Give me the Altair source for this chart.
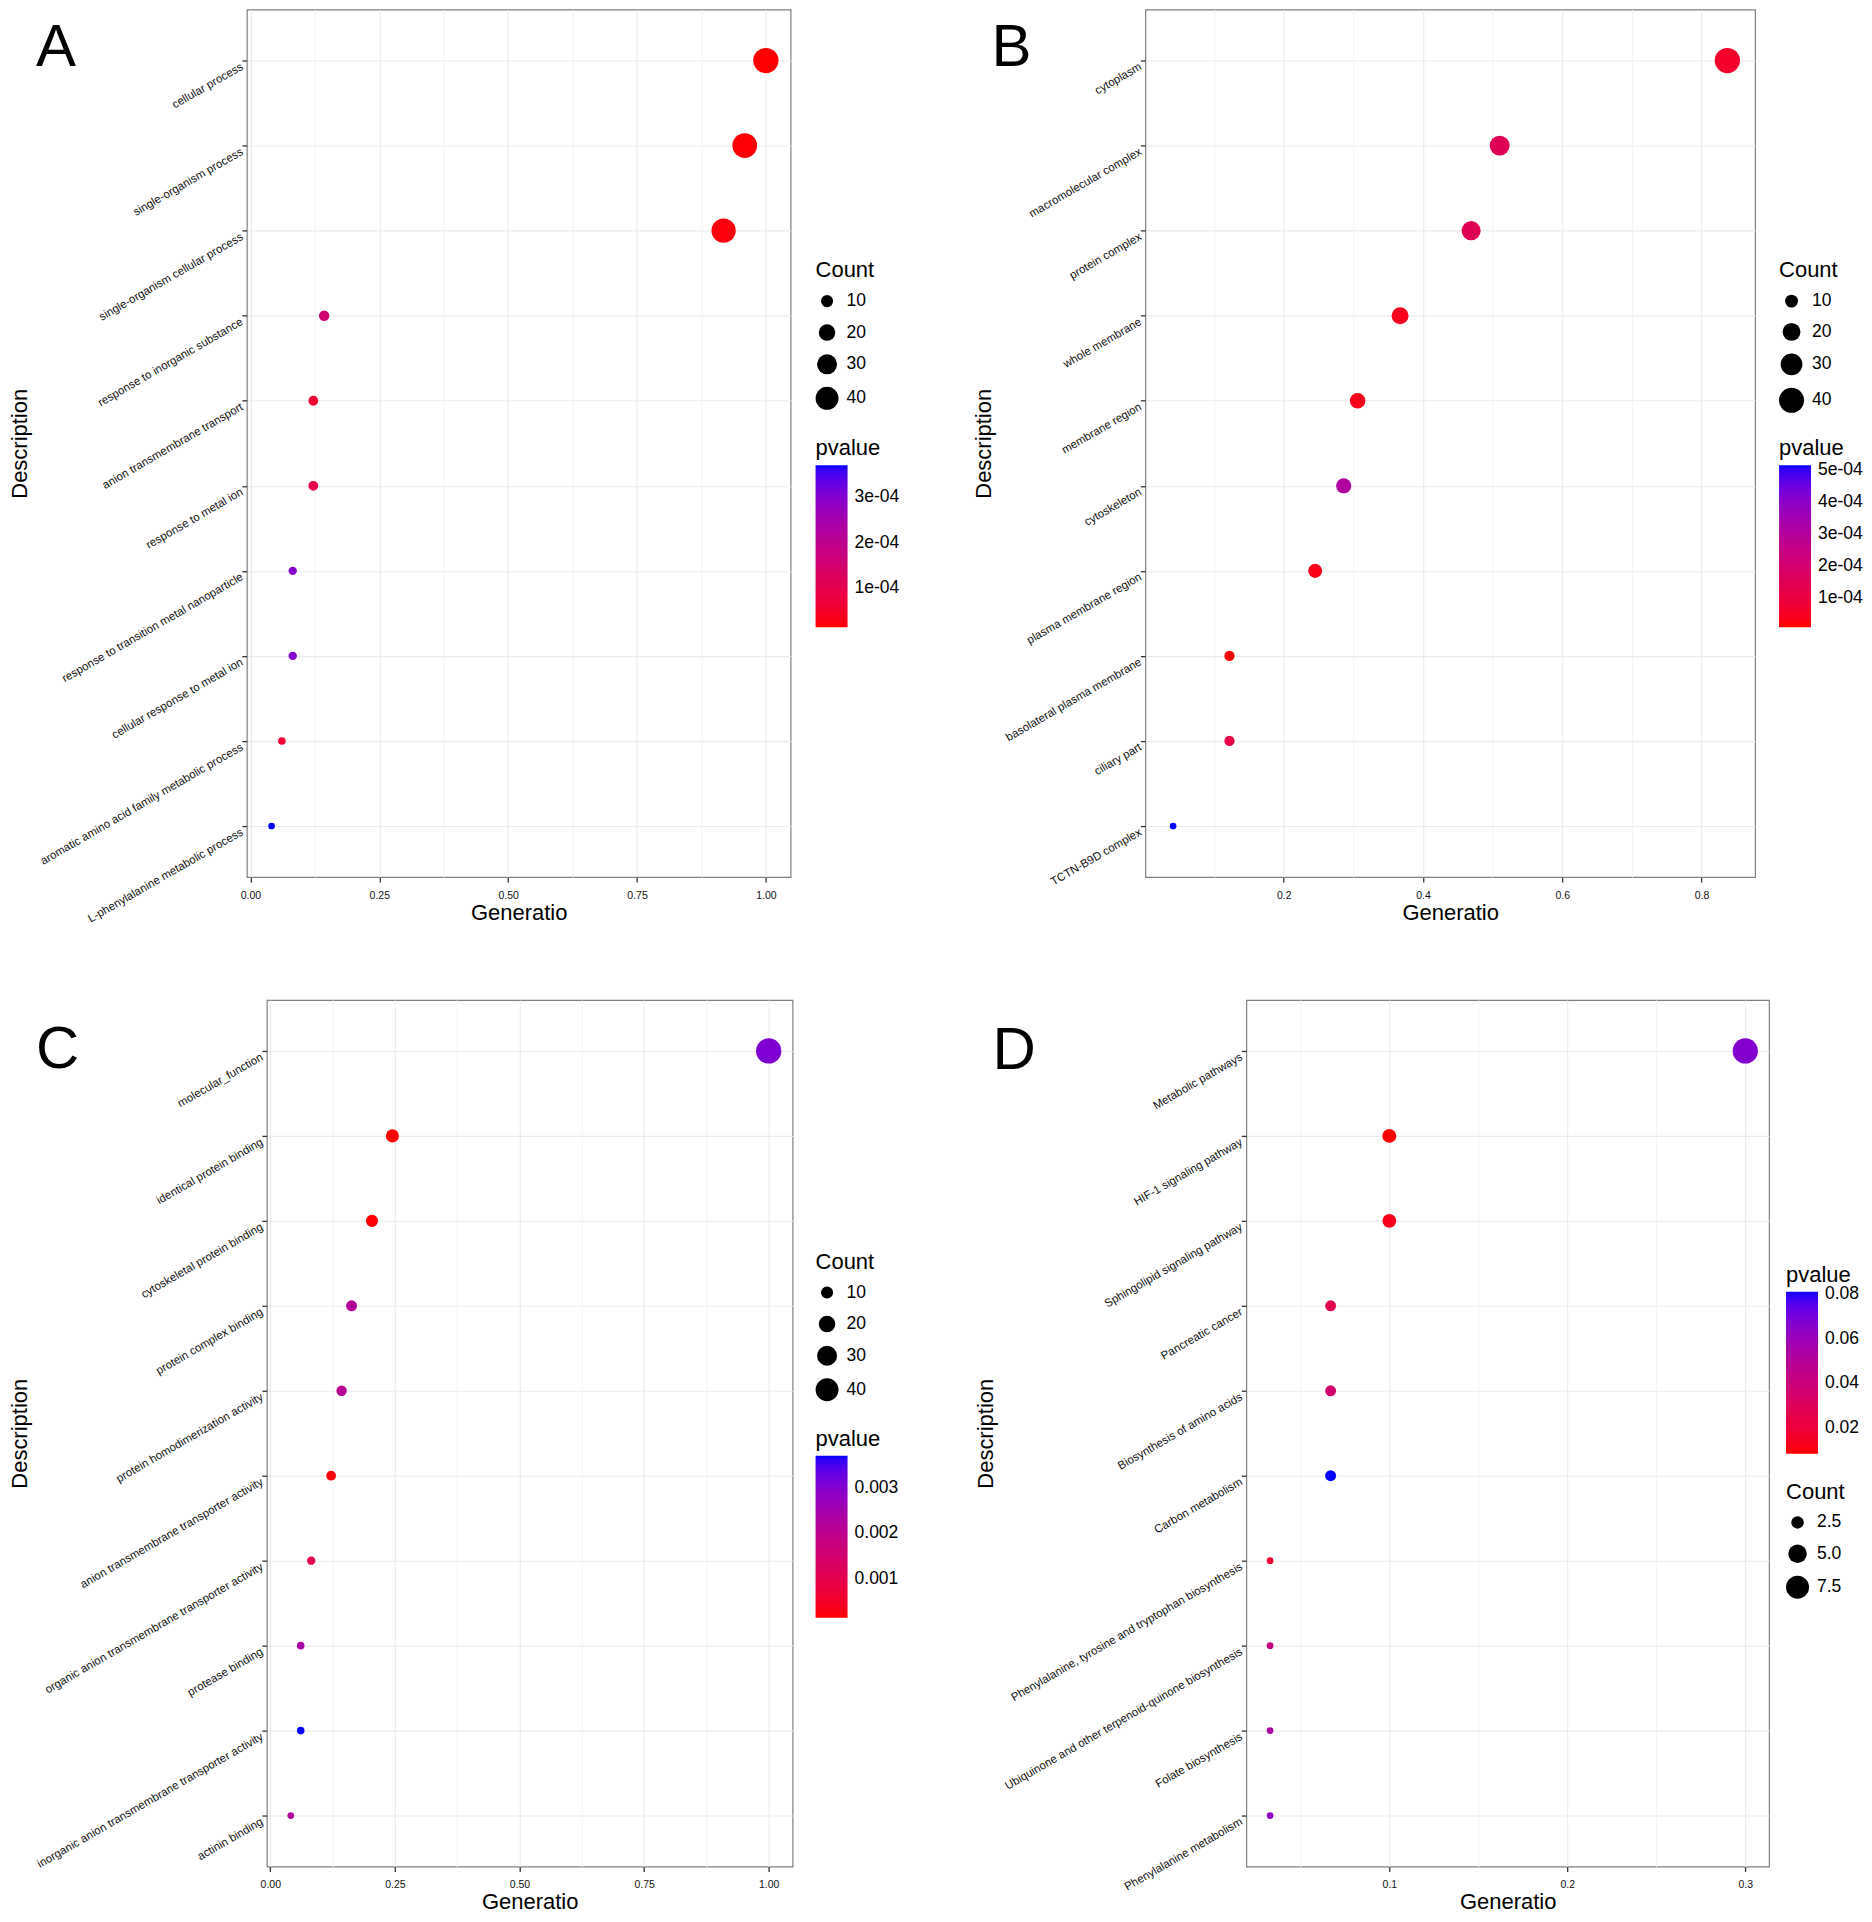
import json
import altair as alt
import pandas as pd

FONT = "Liberation Sans"
GRID_MAJOR = "#EBEBEB"
GRID_MINOR = "#F4F4F4"

# ---------------- Panel A : GO biological process ----------------
desc_A = ["cellular process", "single-organism process", "single-organism cellular process",
          "response to inorganic substance", "anion transmembrane transport", "response to metal ion",
          "response to transition metal nanoparticle", "cellular response to metal ion",
          "aromatic amino acid family metabolic process", "L-phenylalanine metabolic process"]
ratio_A = [1.000, 0.959, 0.918, 0.143, 0.122, 0.122, 0.082, 0.082, 0.061, 0.041]
count_A = [49, 47, 45, 7, 6, 6, 4, 4, 3, 2]
pval_A = [1.4e-5, 1.6e-5, 2.0e-5, 1.56e-4, 5.6e-5, 9.0e-5, 2.95e-4, 3.0e-4, 5.6e-5, 3.7e-4]
xmajor_A = [0.0, 0.25, 0.5, 0.75, 1.0]
xminor_A = [0.125, 0.375, 0.625, 0.875]
count_ticks_A = [10, 20, 30, 40]
p_ticks_A = [1e-4, 2e-4, 3e-4]

# ---------------- Panel B : GO cellular component ----------------
desc_B = ["cytoplasm", "macromolecular complex", "protein complex", "whole membrane",
          "membrane region", "cytoskeleton", "plasma membrane region",
          "basolateral plasma membrane", "ciliary part", "TCTN-B9D complex"]
ratio_B = [0.837, 0.510, 0.469, 0.367, 0.306, 0.286, 0.245, 0.122, 0.122, 0.041]
count_B = [41, 25, 23, 18, 15, 14, 12, 6, 6, 2]
pval_B = [6.5e-5, 1.5e-4, 1.45e-4, 3.8e-5, 3.3e-5, 3.1e-4, 3.3e-5, 8e-6, 1.1e-4, 5.15e-4]
xmajor_B = [0.2, 0.4, 0.6, 0.8]
xminor_B = [0.1, 0.3, 0.5, 0.7]
count_ticks_B = [10, 20, 30, 40]
p_ticks_B = [1e-4, 2e-4, 3e-4, 4e-4, 5e-4]

# ---------------- Panel C : GO molecular function ----------------
desc_C = ["molecular_function", "identical protein binding", "cytoskeletal protein binding",
          "protein complex binding", "protein homodimerization activity",
          "anion transmembrane transporter activity",
          "organic anion transmembrane transporter activity", "protease binding",
          "inorganic anion transmembrane transporter activity", "actinin binding"]
ratio_C = [1.000, 0.245, 0.204, 0.163, 0.143, 0.122, 0.082, 0.061, 0.061, 0.041]
count_C = [49, 12, 10, 8, 7, 6, 4, 3, 3, 2]
pval_C = [3.06e-3, 1.4e-4, 1.6e-4, 2.2e-3, 2.1e-3, 2.0e-4, 1.0e-3, 2.4e-3, 3.7e-3, 2.25e-3]
xmajor_C = [0.0, 0.25, 0.5, 0.75, 1.0]
xminor_C = [0.125, 0.375, 0.625, 0.875]
count_ticks_C = [10, 20, 30, 40]
p_ticks_C = [0.001, 0.002, 0.003]

# ---------------- Panel D : KEGG pathways ----------------
desc_D = ["Metabolic pathways", "HIF-1 signaling pathway", "Sphingolipid signaling pathway",
          "Pancreatic cancer", "Biosynthesis of amino acids", "Carbon metabolism",
          "Phenylalanine, tyrosine and tryptophan biosynthesis",
          "Ubiquinone and other terpenoid-quinone biosynthesis",
          "Folate biosynthesis", "Phenylalanine metabolism"]
ratio_D = [0.300, 0.100, 0.100, 0.067, 0.067, 0.067, 0.033, 0.033, 0.033, 0.033]
count_D = [9, 3, 3, 2, 2, 2, 1, 1, 1, 1]
pval_D = [0.0665, 0.0085, 0.0125, 0.0266, 0.036, 0.081, 0.0172, 0.041, 0.0535, 0.063]
xmajor_D = [0.1, 0.2, 0.3]
xminor_D = [0.05, 0.15, 0.25]
count_ticks_D = [2.5, 5.0, 7.5]
p_ticks_D = [0.02, 0.04, 0.06, 0.08]

EXP_LABEL = "replace(format(datum.value, '.0e'), 'e-', 'e-0')"


def panel(letter, desc, ratio, count, pval, w, h, xmajor, xminor, xfmt,
          count_ticks, count_fmt, p_ticks, p_label_expr,
          count_pos, p_pos, title_x, letter_pos):
    df = pd.DataFrame({"Description": desc, "Generatio": ratio,
                       "Count": count, "pvalue": pval})
    lo, hi = min(ratio), max(ratio)
    pad = 0.05 * (hi - lo)
    is_major = "indexof(%s, datum.value) >= 0" % json.dumps(xmajor)

    x_axis = alt.Axis(
        values=sorted(xmajor + xminor),
        labelExpr="%s ? format(datum.value, '%s') : ''" % (is_major, xfmt),
        tickOpacity={"condition": {"test": is_major, "value": 1}, "value": 0},
        gridColor={"condition": {"test": is_major, "value": GRID_MAJOR}, "value": GRID_MINOR},
        title="Generatio", grid=True, domain=False,
        tickSize=5, labelPadding=8, titlePadding=2, labelFontSize=10.5,
    )
    y_axis = alt.Axis(
        title="Description", titleAngle=270, titleBaseline="alphabetic",
        titleAlign="center", titleX=title_x, titleY=h / 2,
        labelAngle=330, labelAlign="right", labelBaseline="top",
        labelFontSize=11.5, labelPadding=3, labelLimit=600,
        tickSize=5, grid=True, gridColor=GRID_MAJOR, domain=False,
    )
    size_legend = alt.Legend(
        orient="none", legendX=count_pos[0], legendY=count_pos[1],
        values=count_ticks, format=count_fmt, title="Count", direction="vertical",
        symbolFillColor="black", symbolStrokeColor="black", symbolStrokeWidth=0,
        symbolOpacity=1, rowPadding=12.5, titlePadding=10, labelOffset=8,
    )
    p_legend = alt.Legend(
        orient="none", legendX=p_pos[0], legendY=p_pos[1],
        values=p_ticks, labelExpr=p_label_expr, title="pvalue", direction="vertical",
        gradientLength=162, gradientThickness=32, gradientStrokeWidth=0,
        titlePadding=5, labelOffset=7, labelOverlap=False,
    )
    points = alt.Chart(df).mark_circle(opacity=1, color="black").encode(
        x=alt.X("Generatio:Q", axis=x_axis,
                scale=alt.Scale(domain=[lo - pad, hi + pad], nice=False, zero=False)),
        y=alt.Y("Description:N", sort=desc, axis=y_axis,
                scale=alt.Scale(type="point", padding=0.6)),
        size=alt.Size("Count:Q", legend=size_legend,
                      scale=alt.Scale(domain=[min(count), max(count)], range=[45, 640], zero=False)),
        color=alt.Color("pvalue:Q", legend=p_legend,
                        scale=alt.Scale(domain=[min(pval), max(pval)], range=["red", "blue"],
                                        interpolate="lab", zero=False, nice=False)),
    )
    tag = alt.Chart(pd.DataFrame({"panel": [letter]})).mark_text(
        fontSize=60, align="left", baseline="alphabetic", font=FONT, color="black"
    ).encode(text="panel:N", x=alt.value(letter_pos[0]), y=alt.value(letter_pos[1]))
    return alt.layer(points, tag).properties(width=w, height=h)


EXP = EXP_LABEL
pA = panel("A", desc_A, ratio_A, count_A, pval_A, 544, 868, xmajor_A, xminor_A, ".2f",
           count_ticks_A, "d", p_ticks_A, EXP, (569, 251), (569, 429), -220, (-211, 57))
pB = panel("B", desc_B, ratio_B, count_B, pval_B, 610, 868, xmajor_B, xminor_B, ".1f",
           count_ticks_B, "d", p_ticks_B, EXP, (634, 251), (634, 429), -155, (-154, 57))
pC = panel("C", desc_C, ratio_C, count_C, pval_C, 526, 867, xmajor_C, xminor_C, ".2f",
           count_ticks_C, "d", p_ticks_C, "format(datum.value, '.3f')",
           (549, 252), (549, 429), -240, (-231, 68))
pD = panel("D", desc_D, ratio_D, count_D, pval_D, 523, 867, xmajor_D, xminor_D, ".1f",
           count_ticks_D, ".1f", p_ticks_D, "format(datum.value, '.2f')",
           (540, 482), (540, 265), -254, (-254, 69))

# invisible 1px spacer that shifts the lower row 20px to the right of the upper one
spacer = alt.Chart(pd.DataFrame({"s": [0]})).mark_point(opacity=0).encode(
    x=alt.value(0.5), y=alt.value(400), size=alt.value(1)
).properties(width=1, height=1, view=alt.ViewBackground(strokeOpacity=0))

RES = dict(x="independent", y="independent", color="independent", size="independent")
row1 = alt.hconcat(pA, pB, spacing=355, bounds="flush").resolve_scale(**RES)
row2_inner = alt.hconcat(pC, pD, spacing=454, bounds="flush").resolve_scale(**RES)
row2 = alt.hconcat(spacer, row2_inner, spacing=19, bounds="flush").resolve_scale(**RES)

chart = alt.vconcat(row1, row2, spacing=73).resolve_scale(**RES).properties(
    padding={"left": 0, "top": 0, "right": 0, "bottom": 0}
).configure(font=FONT).configure_view(
    stroke="#7F7F7F", strokeWidth=1.2
).configure_axis(
    labelFont=FONT, titleFont=FONT, labelColor="#111111", titleColor="black",
    titleFontSize=22, titleFontWeight="normal", tickColor="#333333", tickWidth=1.3,
    gridWidth=1.1,
).configure_legend(
    labelFont=FONT, titleFont=FONT, titleFontSize=22, titleFontWeight="normal",
    labelFontSize=17.5, titleColor="black", labelColor="black", padding=0,
)

chart.save("out.html", embed_options={"renderer": "svg", "actions": False})
